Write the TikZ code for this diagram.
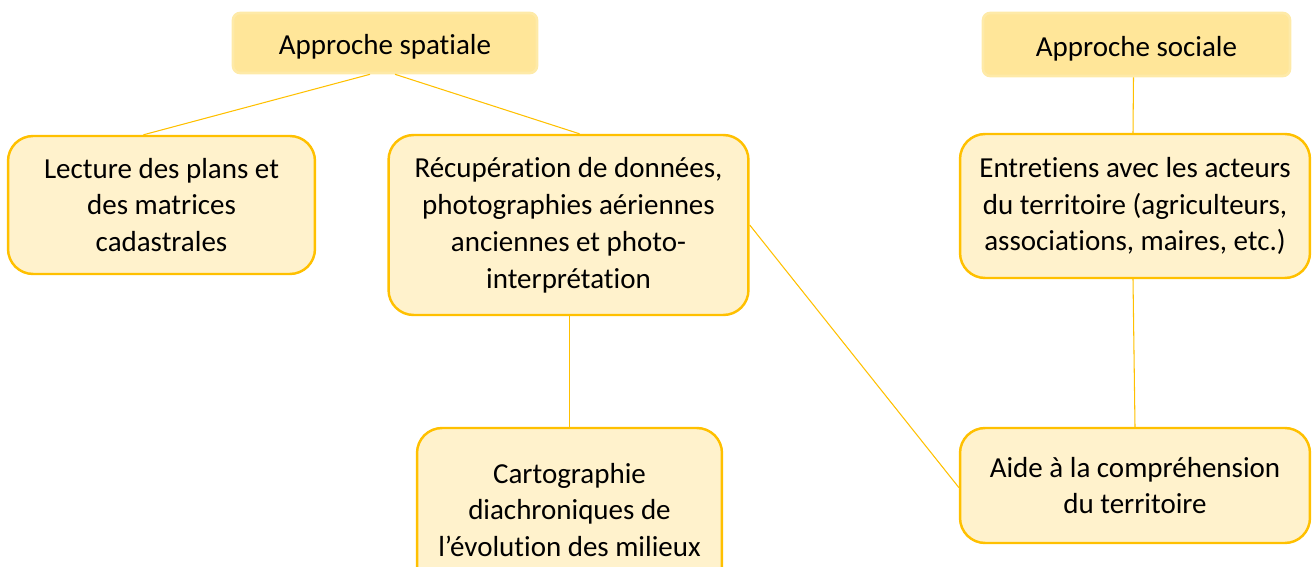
\documentclass[tikz,border=0pt]{standalone}
\usepackage{fontspec}
\setmainfont{Carlito}[Ligatures=NoCommon]
\usetikzlibrary{positioning, calc}
\definecolor{boxfill}{HTML}{FFF2CC}
\definecolor{boxline}{HTML}{FFC000}
\definecolor{headfill}{HTML}{FFE699}
\definecolor{headedge}{HTML}{FEEAA8}

\tikzset{
  etape/.style={draw=boxline, fill=boxfill, line width=1.4pt, rounded corners=0.5cm,
    align=center, inner sep=0pt, font=\fontsize{16.5}{21}\selectfont},
  entete/.style={fill=headfill, draw=headedge, line width=1.5pt, rounded corners=4pt,
    align=center, inner sep=0pt, text height=0.6cm, text depth=0.12cm,
    font=\fontsize{16.5}{21}\selectfont},
  lien/.style={draw=boxline, line width=0.6pt}
}

\begin{document}
\begin{tikzpicture}[x=0.02cm, y=-0.02cm] % 1 unité = 1 pixel de la figure

\useasboundingbox (0,0) rectangle (1312,567);

% en-têtes
\node[entete, minimum width=6.08cm, minimum height=1.2cm] (hspat) at (385,43) {Approche spatiale};
\node[entete, minimum width=6.14cm, minimum height=1.26cm] (hsoc) at (1136.5,44.5) {Approche sociale};

% approche spatiale
\node[etape, minimum width=6.14cm, minimum height=2.76cm] (lecture) at (161.5,205)
  {Lecture des plans et\\des matrices\\cadastrales};
\node[etape, minimum width=7.2cm, minimum height=3.6cm] (recup) at (568.5,225)
  {Récupération de données,\\photographies aériennes\\anciennes et photo-\\interprétation};
\node[etape, minimum width=6.1cm, minimum height=3.28cm] (carto) at (569.5,510)
  {Cartographie\\diachroniques de\\l’évolution des milieux};

% approche sociale
\node[etape, minimum width=7.0cm, minimum height=2.88cm] (entret) at (1135,206)
  {Entretiens avec les acteurs\\du territoire (agriculteurs,\\associations, maires, etc.)};
\node[etape, minimum width=7.0cm, minimum height=2.3cm] (aide) at (1135,485.5)
  {Aide à la compréhension\\du territoire};

% liens
\draw[lien] ($(hspat.south)+(-15,0)$) -- ($(lecture.north)+(-18,0)$);
\draw[lien] ($(hspat.south)+(10,0)$) -- ($(recup.north)+(11,0)$);
\draw[lien] ($(recup.south)+(1,0)$) -- (carto.north);
\draw[lien] (recup.east) -- ($(aide.west)+(0,2)$);
\draw[lien] ($(hsoc.south)+(-3,0)$) -- ($(entret.north)+(-2,0)$);
\draw[lien] ($(entret.south)+(-2,0)$) -- (aide.north);

\end{tikzpicture}
\end{document}
